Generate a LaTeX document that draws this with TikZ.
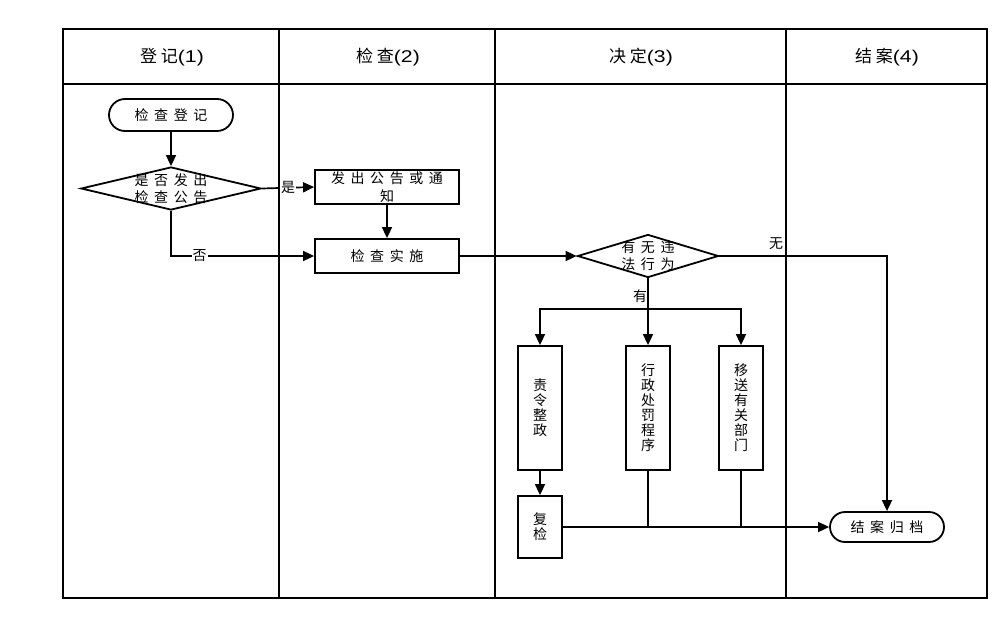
\documentclass[tikz,border=0pt]{standalone}
\usepackage{graphicx}
\usepackage{fontspec}
\setmainfont{Liberation Sans}
\newfontfamily\cjk{Noto Sans CJK SC}
\newfontfamily\cjksp[LetterSpace=40]{Noto Sans CJK SC}
\newfontfamily\cjkh[LetterSpace=22]{Noto Sans CJK SC}
\newcommand{\hnum}[1]{\scalebox{1.25}[1]{#1}}
\usetikzlibrary{arrows.meta,shapes.geometric,shapes.misc}
\begin{document}
\begin{tikzpicture}[x=1pt,y=-1pt,
  grid/.style={line width=2pt},
  conn/.style={line width=1.7pt},
  arr/.style={conn,-{Triangle[length=11pt,width=10pt]}},
  term/.style={draw,line width=1.8pt,rounded rectangle,minimum width=124pt,minimum height=32pt,inner sep=0pt,font=\cjksp\fontsize{14}{16}\selectfont},
  proc/.style={draw,line width=1.8pt,rectangle,inner sep=0pt,font=\cjksp\fontsize{14}{18}\selectfont,align=center},
  vbox/.style={draw,line width=1.8pt,rectangle,inner sep=0pt,minimum width=44pt,minimum height=124pt,font=\cjk\fontsize{14}{15}\selectfont,align=center},
  dec/.style={draw,line width=1.8pt,diamond,inner sep=0pt},
  dtext/.style={font=\cjksp\fontsize{14}{17}\selectfont,align=center,inner sep=0pt},
  hdr/.style={font=\fontsize{17}{19}\selectfont},
  lbl/.style={font=\cjk\fontsize{14}{16}\selectfont,inner sep=1pt,fill=white}
]
\useasboundingbox (0,0) rectangle (1000,629);
% frame
\draw[grid] (63,29) rectangle (987,598);
\draw[grid] (63,84) -- (987,84);
\draw[grid] (279,29) -- (279,598);
\draw[grid] (495,29) -- (495,598);
\draw[grid] (786,29) -- (786,598);
% headers
\node[hdr] (h1) at (172,57) {{\cjkh 登记}\hnum{(1)}};
\node[hdr] (h2) at (388,57) {{\cjkh 检查}\hnum{(2)}};
\node[hdr] (h3) at (641,57) {{\cjkh 决定}\hnum{(3)}};
\node[hdr] (h4) at (887,57) {{\cjkh 结案}\hnum{(4)}};
% nodes
\node[term] (t1) at (171,115) {检查登记};
\node[dec,minimum width=180pt,minimum height=43pt] (d1) at (171,188.5) {};
\node[dtext] (d1t) at (d1.center) {是否发出\\检查公告};
\node[proc,minimum width=144pt,minimum height=34pt] (p1) at (387,187) {发出公告或通\\知};
\node[proc,minimum width=144pt,minimum height=34pt] (p2) at (387,256) {检查实施};
\node[dec,minimum width=141pt,minimum height=43pt] (d2) at (648,256) {};
\node[dtext] (d2t) at (d2.center) {有无违\\法行为};
\node[vbox] (v1) at (540,408) {责\\令\\整\\政};
\node[vbox] (v2) at (648,408) {行\\政\\处\\罚\\程\\序};
\node[vbox] (v3) at (741,408) {移\\送\\有\\关\\部\\门};
\node[vbox,minimum height=62pt] (rc) at (540,527) {复\\检};
\node[term,minimum width=114pt,minimum height=30pt] (end) at (887,527) {结案归档};
% connectors
\draw[arr] (t1) -- (d1);
\draw[arr] (d1.east) -- node[lbl,pos=0.5] (ly) {是} (p1.west);
\draw[arr] (p1) -- (p2);
\draw[arr] (d1.south) |- node[lbl,pos=0.6] (ln) {否} (p2.west);
\draw[arr] (p2.east) -- (d2.west);
\draw[arr] (d2.east) -| (end.north);
\node[font=\cjk\fontsize{14}{16}\selectfont,inner sep=0pt] (lw) at (776,244) {无};
\coordinate (bm) at (648,309);
\draw[arr] (d2.south) -- (v2.north);
\node[font=\cjk\fontsize{14}{16}\selectfont,inner sep=0pt] (lh) at (640,296) {有};
\draw[arr] (bm) -| (v1.north);
\draw[arr] (bm) -| (v3.north);
\draw[arr] (v1.south) -- (rc.north);
\draw[arr] (rc.east) -- (end.west);
\draw[conn] (v2.south) -- (v2.south |- end.west);
\draw[conn] (v3.south) -- (v3.south |- end.west);
\end{tikzpicture}
\end{document}
